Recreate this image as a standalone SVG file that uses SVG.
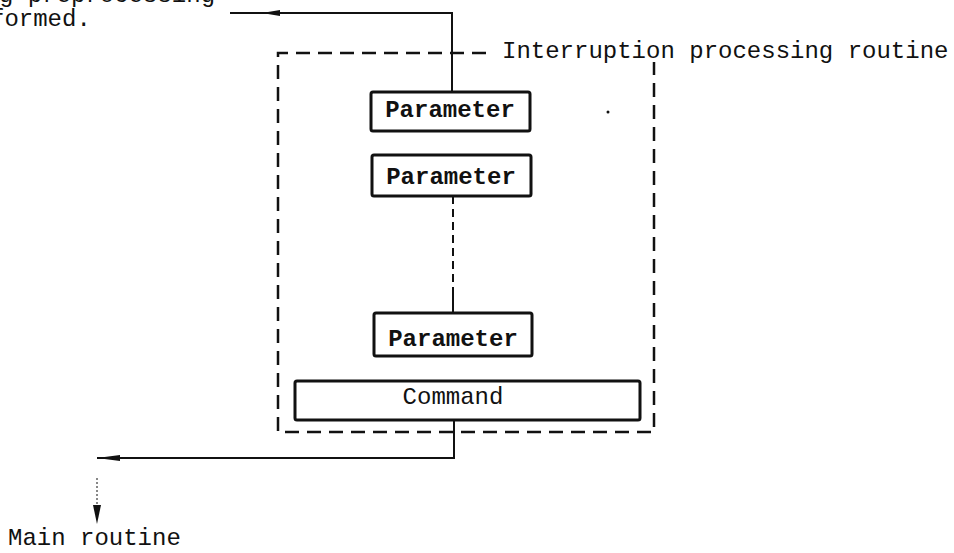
<svg xmlns="http://www.w3.org/2000/svg" width="954" height="553" viewBox="0 0 954 553">
<style>
  .t { font-family: "Liberation Mono", "DejaVu Sans Mono", monospace; font-size: 24px; fill: #111; }
  .b { font-weight: bold; }
  .box { fill: #fff; stroke: #111; stroke-width: 3; }
  .ln { fill: none; stroke: #111; stroke-width: 2; }
  .dash { fill: none; stroke: #111; stroke-width: 2.5; stroke-dasharray: 14 8; }
</style>
<rect width="954" height="553" fill="#fff"/>

<g id="label-top">
  <text class="t" x="-1" y="2">g preprocessing</text>
  <text class="t" x="-10" y="26">formed.</text>
</g>

<g id="routine-frame">
  <path class="dash" d="M486,53 L278,53 L278,432 L654,432 L654,62"/>
  <text class="t" x="502" y="58">Interruption processing routine</text>
</g>

<g id="param1">
  <rect class="box" x="371" y="92" width="159" height="39" rx="2"/>
  <text class="t b" x="450" y="117" text-anchor="middle">Parameter</text>
</g>
<g id="param2">
  <rect class="box" x="372" y="155" width="159" height="41" rx="2"/>
  <text class="t b" x="451" y="184" text-anchor="middle">Parameter</text>
</g>
<g id="param3">
  <rect class="box" x="374" y="313" width="158" height="43" rx="2"/>
  <text class="t b" x="453" y="346" text-anchor="middle">Parameter</text>
</g>
<g id="command">
  <rect class="box" x="295" y="381" width="345" height="39" rx="2"/>
  <text class="t" x="453" y="404" text-anchor="middle">Command</text>
</g>

<g id="label-main">
  <text class="t" x="8" y="545">Main routine</text>
</g>

<g id="connectors">
  <path class="ln" d="M452,92 L452,13 L230,13"/>
  <path d="M262,13 L280,10 L280,16 Z" fill="#111"/>
  <path class="ln" d="M453,196 L453,288" stroke-dasharray="8 5"/>
  <path class="ln" d="M453,288 L453,313"/>
  <path class="ln" d="M454,420 L454,458 L97,458"/>
  <path d="M97,458 L120,455 L120,461 Z" fill="#111"/>
  <path d="M97,478 L97,506" fill="none" stroke="#111" stroke-width="1" stroke-dasharray="2 2"/>
  <path d="M97,524 L93,505 L101,505 Z" fill="#111"/>
  <circle cx="608" cy="112" r="1.5" fill="#111"/>
</g>
</svg>
